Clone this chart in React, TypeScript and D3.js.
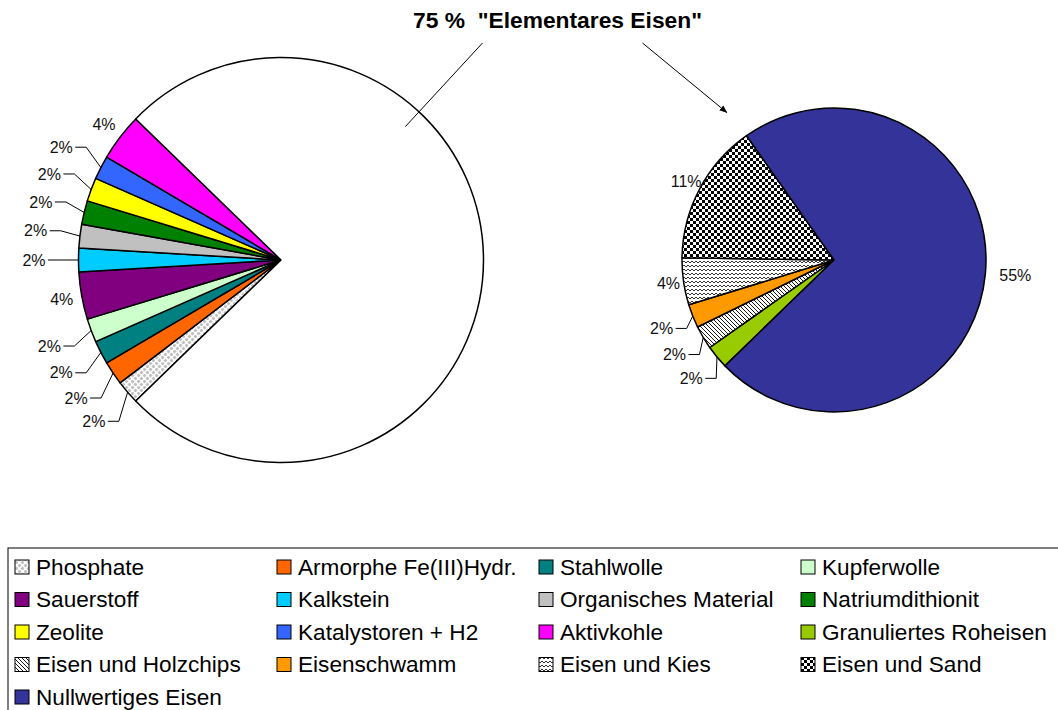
import * as d3 from 'd3'

// first pie: small groups, the rest ("Elementares Eisen") is split in the second pie
const leftNames = [
  'Phosphate',
  'Armorphe Fe(III)Hydr.',
  'Stahlwolle',
  'Kupferwolle',
  'Sauerstoff',
  'Kalkstein',
  'Organisches Material',
  'Natriumdithionit',
  'Zeolite',
  'Katalystoren + H2',
  'Aktivkohle',
]
const leftCounts = [1, 1, 1, 1, 2, 1, 1, 1, 1, 1, 2]

const rightNames = [
  'Granuliertes Roheisen',
  'Eisen und Holzchips',
  'Eisenschwamm',
  'Eisen und Kies',
  'Eisen und Sand',
  'Nullwertiges Eisen',
]
const rightCounts = [1, 1, 1, 2, 6, 29]

const fills: Record<string, string> = {
  'Phosphate': 'url(#patPhosphate)',
  'Armorphe Fe(III)Hydr.': '#FF6600',
  'Stahlwolle': '#008080',
  'Kupferwolle': '#CCFFCC',
  'Sauerstoff': '#800080',
  'Kalkstein': '#00CCFF',
  'Organisches Material': '#C0C0C0',
  'Natriumdithionit': '#008000',
  'Zeolite': '#FFFF00',
  'Katalystoren + H2': '#3366FF',
  'Aktivkohle': '#FF00FF',
  'Granuliertes Roheisen': '#99CC00',
  'Eisen und Holzchips': 'url(#patHolz)',
  'Eisenschwamm': '#FF9900',
  'Eisen und Kies': 'url(#patKies)',
  'Eisen und Sand': 'url(#patSand)',
  'Nullwertiges Eisen': '#333399',
}

const W = 1058
const H = 710
const FONT = '"Liberation Sans", Arial, sans-serif'

const L = { cx: 281, cy: 260, r: 202.5 }
const R = { cx: 834, cy: 260, r: 152 }

type Slice = { name: string; value: number }

const pt = (a: number, rad: number, c: { cx: number; cy: number }) =>
  [c.cx + rad * Math.sin(a), c.cy - rad * Math.cos(a)] as [number, number]

function PieLabels({ arcs, c, total }: { arcs: d3.PieArcDatum<Slice>[]; c: typeof L; total: number }) {
  return (
    <g fontFamily={FONT} fontSize={16} fill="#111">
      {arcs.map((a) => {
        if (a.data.name === 'other') return null
        const mid = (a.startAngle + a.endAngle) / 2
        const frac = a.data.value / total
        const txt = `${Math.round(frac * 100)}%`
        const s = Math.sin(mid)
        if (frac < 0.03) {
          const [lx, ly] = pt(mid, c.r * 1.22, c)
          const rim = pt(mid, c.r, c)
          const dir = s < 0 ? 1 : -1
          const pts = [[lx + dir * 14, ly], [lx + dir * 25, ly], rim]
          return (
            <g key={a.data.name}>
              <polyline points={pts.map((p) => p.join(',')).join(' ')} fill="none" stroke="#000" strokeWidth={1} />
              <text x={lx} y={ly} dy="0.35em" textAnchor="middle">{txt}</text>
            </g>
          )
        }
        if (s > 0.3) {
          const [lx, ly] = pt(mid, c.r + 14, c)
          return <text key={a.data.name} x={lx} y={ly} dy="0.35em" textAnchor="start">{txt}</text>
        }
        const [lx, ly] = pt(mid, c.r * 1.1, c)
        return <text key={a.data.name} x={lx} y={ly} dy="0.35em" textAnchor="middle">{txt}</text>
      })}
    </g>
  )
}

export default function App() {
  const leftSum = d3.sum(leftCounts)
  const otherSum = d3.sum(rightCounts)
  const total = leftSum + otherSum
  const f = otherSum / total
  const start = Math.PI / 2 + Math.PI * f

  const pie = d3.pie<Slice>().value((d) => d.value).sort(null)
    .startAngle(start).endAngle(start + 2 * Math.PI)

  const leftData: Slice[] = [
    ...leftNames.map((n, i) => ({ name: n, value: leftCounts[i] })),
    { name: 'other', value: otherSum },
  ]
  const rightData: Slice[] = rightNames.map((n, i) => ({ name: n, value: rightCounts[i] }))

  const leftArcs = pie(leftData)
  const rightArcs = pie(rightData)

  const arcL = d3.arc<d3.PieArcDatum<Slice>>().innerRadius(0).outerRadius(L.r)
  const arcR = d3.arc<d3.PieArcDatum<Slice>>().innerRadius(0).outerRadius(R.r)

  const titleX = (L.cx + R.cx) / 2
  const titleY = 28
  const lineStart = pt((43 * Math.PI) / 180, L.r * 0.9, L)
  const arrowEnd = pt((-36 * Math.PI) / 180, R.r * 1.2, R)

  const legendNames = [...leftNames, ...rightNames]
  const colX = d3.scaleLinear().domain([0, 3]).range([15, 801])
  const rowY = d3.scaleLinear().domain([0, 4]).range([567, 697])

  return (
    <svg width={W} height={H} style={{ position: 'absolute', left: 0, top: 0, background: '#fff' }}>
      <defs>
        <pattern id="patPhosphate" width={6} height={6} patternUnits="userSpaceOnUse">
          <rect width={6} height={6} fill="#fff" />
          <path d="M1.5 -0.6 L3.6 1.5 L1.5 3.6 L-0.6 1.5 Z M4.5 2.4 L6.6 4.5 L4.5 6.6 L2.4 4.5 Z" fill="#C0C0C0" />
        </pattern>
        <pattern id="patHolz" width={4} height={4} patternUnits="userSpaceOnUse">
          <rect width={4} height={4} fill="#fff" />
          <path d="M-1 -1 L5 5 M-1 3 L1 5 M3 -1 L5 1" stroke="#000" strokeWidth={0.9} />
        </pattern>
        <pattern id="patKies" width={4} height={4} patternUnits="userSpaceOnUse">
          <rect width={4} height={4} fill="#fff" />
          <path d="M0 3 L2 1 L4 3" fill="none" stroke="#000" strokeWidth={0.8} />
        </pattern>
        <pattern id="patSand" width={6} height={6} patternUnits="userSpaceOnUse">
          <rect width={6} height={6} fill="#fff" />
          <rect width={3} height={3} fill="#000" />
          <rect x={3} y={3} width={3} height={3} fill="#000" />
        </pattern>
        <marker id="arrow" viewBox="0 0 10 10" refX={9} refY={5} markerWidth={8} markerHeight={8} orient="auto">
          <path d="M0 1 L10 5 L0 9 Z" fill="#000" />
        </marker>
      </defs>

      <g transform={`translate(${L.cx},${L.cy})`}>
        {leftArcs.map((a) => (
          <path key={a.data.name} d={arcL(a) ?? ''}
            fill={a.data.name === 'other' ? '#fff' : fills[a.data.name]}
            stroke="#000" strokeWidth={1.5} strokeLinejoin="round" />
        ))}
      </g>
      <PieLabels arcs={leftArcs} c={L} total={total} />

      <g transform={`translate(${R.cx},${R.cy})`}>
        {rightArcs.map((a) => (
          <path key={a.data.name} d={arcR(a) ?? ''} fill={fills[a.data.name]}
            stroke="#000" strokeWidth={1.5} strokeLinejoin="round" />
        ))}
      </g>
      <PieLabels arcs={rightArcs} c={R} total={total} />

      <text x={titleX} y={titleY} textAnchor="middle" fontFamily={FONT} fontWeight="bold"
        fontSize={22.8} style={{ whiteSpace: 'pre' }}>
        {`${Math.round(f * 100)} %  "Elementares Eisen"`}
      </text>
      <line x1={lineStart[0]} y1={lineStart[1]} x2={titleX - 75} y2={titleY + 15} stroke="#000" strokeWidth={1} />
      <line x1={titleX + 85} y1={titleY + 15} x2={arrowEnd[0]} y2={arrowEnd[1]} stroke="#000" strokeWidth={1}
        markerEnd="url(#arrow)" />

      <rect x={8} y={548} width={W + 10} height={200} fill="none" stroke="#000" strokeWidth={1} />
      <g fontFamily={FONT} fontSize={22.6} fill="#000">
        {legendNames.map((n, i) => {
          const x = colX(i % 4)
          const y = rowY(Math.floor(i / 4))
          return (
            <g key={n}>
              <rect x={x} y={y - 7} width={14} height={14} fill={fills[n]} stroke="#000" strokeWidth={1} />
              <text x={x + 21} y={y} dy="0.35em">{n}</text>
            </g>
          )
        })}
      </g>
    </svg>
  )
}
